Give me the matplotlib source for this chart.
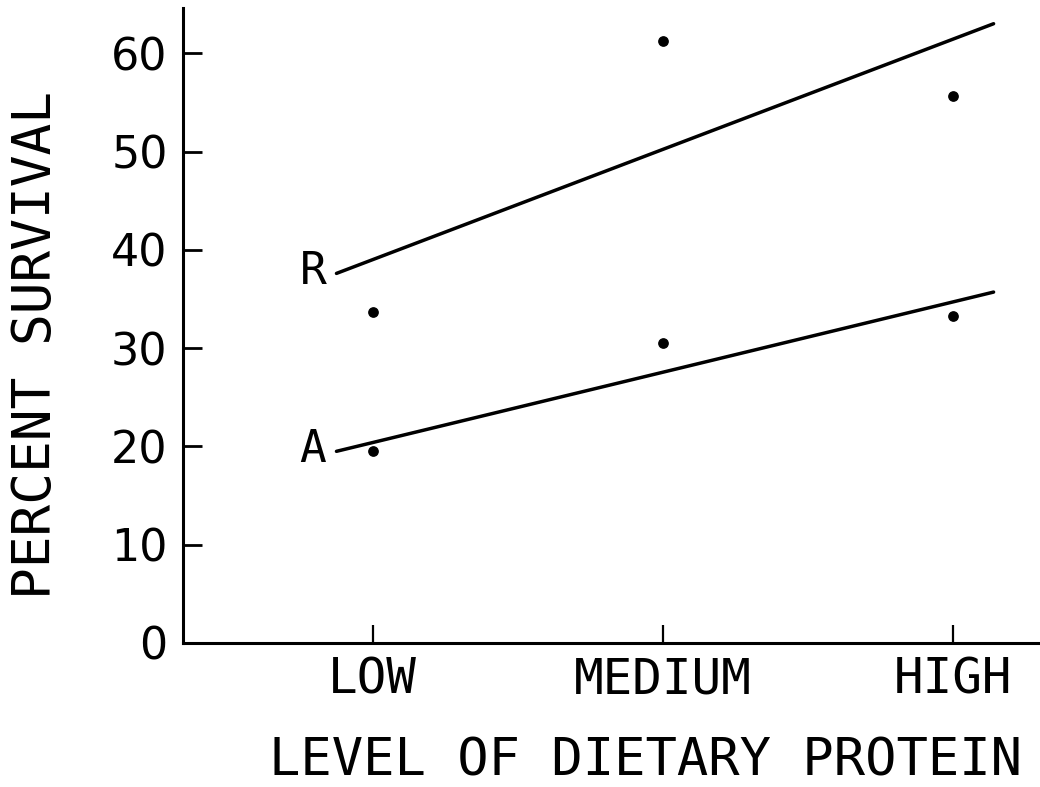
import numpy as np
import matplotlib
matplotlib.use("Agg")
import matplotlib.pyplot as plt

# Datos
niveles = ["LOW", "MEDIUM", "HIGH"]
x_pos = [1, 2, 3]
puntos_sup = [33.7, 61.2, 55.6]   # puntos de la serie R
puntos_inf = [19.5, 30.5, 33.3]   # puntos de la serie A

# Rectas de ajuste (extremos)
recta_x = [0.875, 3.14]
recta_R = [37.6, 63.0]
recta_A = [19.5, 35.7]

y_ticks = [0, 10, 20, 30, 40, 50, 60]

fuente = "DejaVu Sans Mono"
tinta = "black"

fig = plt.figure(figsize=(10.4, 7.87), dpi=100)
ax = fig.add_axes([183 / 1040, 144 / 787, 857 / 1040, 635 / 787])

# Rectas y puntos
ax.plot(recta_x, recta_R, color=tinta, lw=2.5, solid_capstyle="round")
ax.plot(recta_x, recta_A, color=tinta, lw=2.5, solid_capstyle="round")
ax.scatter(x_pos, puntos_sup, s=45, color=tinta, zorder=3)
ax.scatter(x_pos, puntos_inf, s=45, color=tinta, zorder=3)

# Etiquetas de las rectas
ax.text(recta_x[0] - 0.035, recta_R[0] + 0.2, "R", ha="right", va="center",
        fontsize=32, family=fuente, color=tinta)
ax.text(recta_x[0] - 0.035, recta_A[0] + 0.2, "A", ha="right", va="center",
        fontsize=32, family=fuente, color=tinta)

# Ejes
ax.set_xlim(0.346, 3.30)
ax.set_ylim(0, 64.6)
ax.spines["top"].set_visible(False)
ax.spines["right"].set_visible(False)
ax.spines["left"].set_linewidth(2.2)
ax.spines["bottom"].set_linewidth(2.2)

ax.set_xticks(x_pos)
ax.set_xticklabels(niveles, family=fuente, fontsize=35.5)
ax.set_yticks(y_ticks)
ax.set_yticklabels([str(v) for v in y_ticks], family="DejaVu Sans", fontsize=32)
ax.tick_params(axis="x", direction="in", length=13, width=1.6, pad=9)
ax.tick_params(axis="y", direction="in", length=14, width=2.0, pad=11)

ax.set_xlabel("LEVEL OF DIETARY PROTEIN", family=fuente, fontsize=37.5)
ax.xaxis.set_label_coords(0.540, -0.186)
ax.xaxis.label.set_verticalalignment("center")
ax.set_ylabel("PERCENT SURVIVAL", family=fuente, fontsize=38)
ax.yaxis.set_label_coords(-0.172, 0.469)
ax.yaxis.label.set_verticalalignment("center")

fig.savefig("out.png", dpi=100, facecolor="white")
